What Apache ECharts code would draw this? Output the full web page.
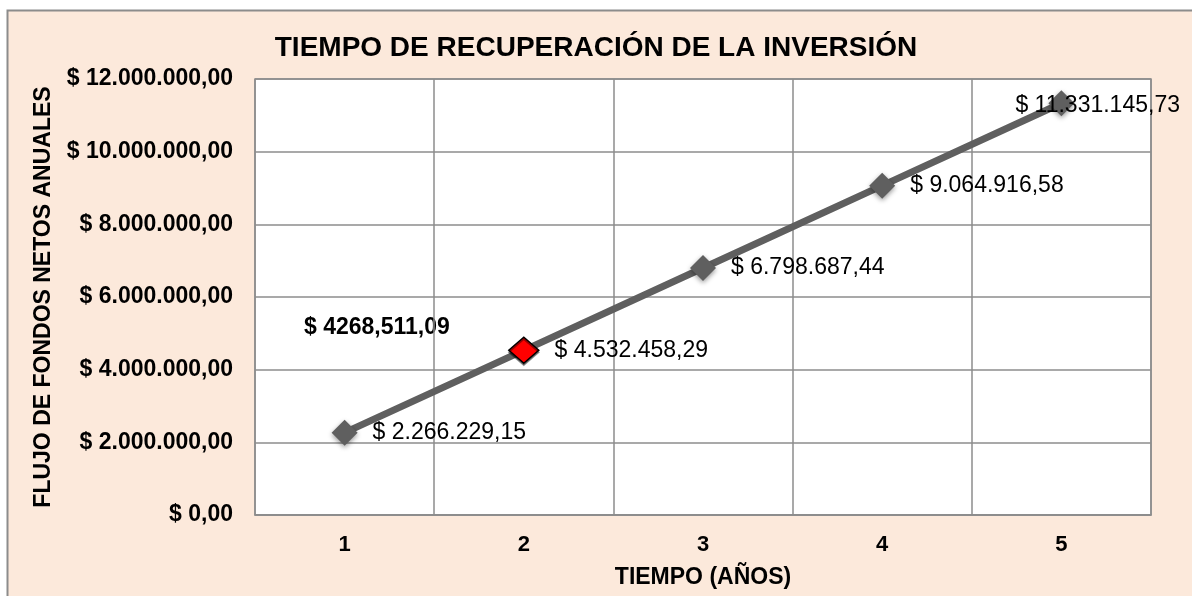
<!DOCTYPE html>
<html>
<head>
    <meta charset="utf-8"/>
    <title>Tiempo de recuperación</title>
    <script src="https://cdn.jsdelivr.net/npm/echarts@6/dist/echarts.min.js"></script>
    <style>
        html, body { margin: 0; padding: 0; background: #fff; }
        #chart { width: 1192px; height: 596px; }
    </style>
</head>
<body>
<div id="chart"></div>
<script>
    // datos del gráfico
    var anios = ['1', '2', '3', '4', '5'];
    var flujo = [2266229.15, 4532458.29, 6798687.44, 9064916.58, 11331145.73];
    var puntoRecuperacion = 1; // índice del año 2 (marcado en rojo)
    var notaRecuperacion = '$ 4268,511,09';

    // formato 12.345,67
    function moneda(v, dec) {
        var partes = v.toFixed(dec).split('.');
        var entero = partes[0].replace(/\B(?=(\d{3})+(?!\d))/g, '.');
        return '$ ' + entero + (dec > 0 ? ',' + partes[1] : '');
    }

    var gris = '#5f5f5f';
    var fuente = '"Liberation Sans", Arial, sans-serif';

    var puntos = flujo.map(function (v, i) {
        var p = {value: v};
        if (i == puntoRecuperacion) {
            p.symbolSize = [30, 26];
            p.itemStyle = {color: '#ff0000', borderColor: '#000', borderWidth: 1.5, shadowBlur: 0};
        }
        if (i == flujo.length - 1) {
            p.label = {offset: [-74, 2]};
        }
        return p;
    });

    var myChart = echarts.init(document.getElementById('chart'));
    var option = {
        animation: false,
        textStyle: {fontFamily: fuente},
        title: {
            text: 'TIEMPO DE RECUPERACIÓN DE LA INVERSIÓN',
            left: 'center',
            top: 29,
            textStyle: {fontSize: 28, fontWeight: 'bold', color: '#000', fontFamily: fuente}
        },
        graphic: [{
            type: 'rect',
            z: -10,
            silent: true,
            shape: {x: 7.5, y: 10.5, width: 1200, height: 600},
            style: {fill: '#fce9db', stroke: '#8c8c8c', lineWidth: 2}
        }, {
            type: 'text',
            left: 304,
            top: 316,
            style: {text: notaRecuperacion, font: 'bold 23px ' + fuente, fill: '#000'}
        }],
        grid: {
            left: 255,
            right: 41,
            top: 79,
            bottom: 81,
            show: true,
            backgroundColor: '#fff',
            borderColor: '#8c8c8c',
            borderWidth: 1.5
        },
        xAxis: {
            type: 'category',
            data: anios,
            name: 'TIEMPO (AÑOS)',
            nameLocation: 'middle',
            nameGap: 51,
            nameTextStyle: {fontSize: 23, fontWeight: 'bold', color: '#000'},
            axisLine: {lineStyle: {color: '#8c8c8c', width: 1.5}},
            axisTick: {show: false},
            axisLabel: {fontSize: 22, fontWeight: 'bold', color: '#000', margin: 19},
            splitLine: {show: true, lineStyle: {color: '#8c8c8c', width: 1.5}}
        },
        yAxis: {
            type: 'value',
            min: 0,
            max: 12000000,
            interval: 2000000,
            name: 'FLUJO DE FONDOS NETOS ANUALES',
            nameLocation: 'middle',
            nameGap: 200,
            nameRotate: 90,
            nameTextStyle: {fontSize: 23, fontWeight: 'bold', color: '#000'},
            axisLine: {show: false},
            axisTick: {show: false},
            axisLabel: {
                fontSize: 23, fontWeight: 'bold', color: '#000', margin: 22,
                formatter: function (v) { return moneda(v, 2); }
            },
            splitLine: {lineStyle: {color: '#8c8c8c', width: 1.5}}
        },
        series: [{
            type: 'line',
            data: puntos,
            symbol: 'diamond',
            symbolSize: 26,
            lineStyle: {color: gris, width: 7},
            itemStyle: {
                color: gris,
                shadowBlur: 5,
                shadowColor: 'rgba(0,0,0,0.4)',
                shadowOffsetY: 2
            },
            label: {
                show: true,
                position: 'right',
                distance: 15,
                fontSize: 23,
                color: '#000',
                formatter: function (p) { return moneda(p.value, 2); }
            }
        }]
    };
    myChart.setOption(option);
</script>
</body>
</html>
